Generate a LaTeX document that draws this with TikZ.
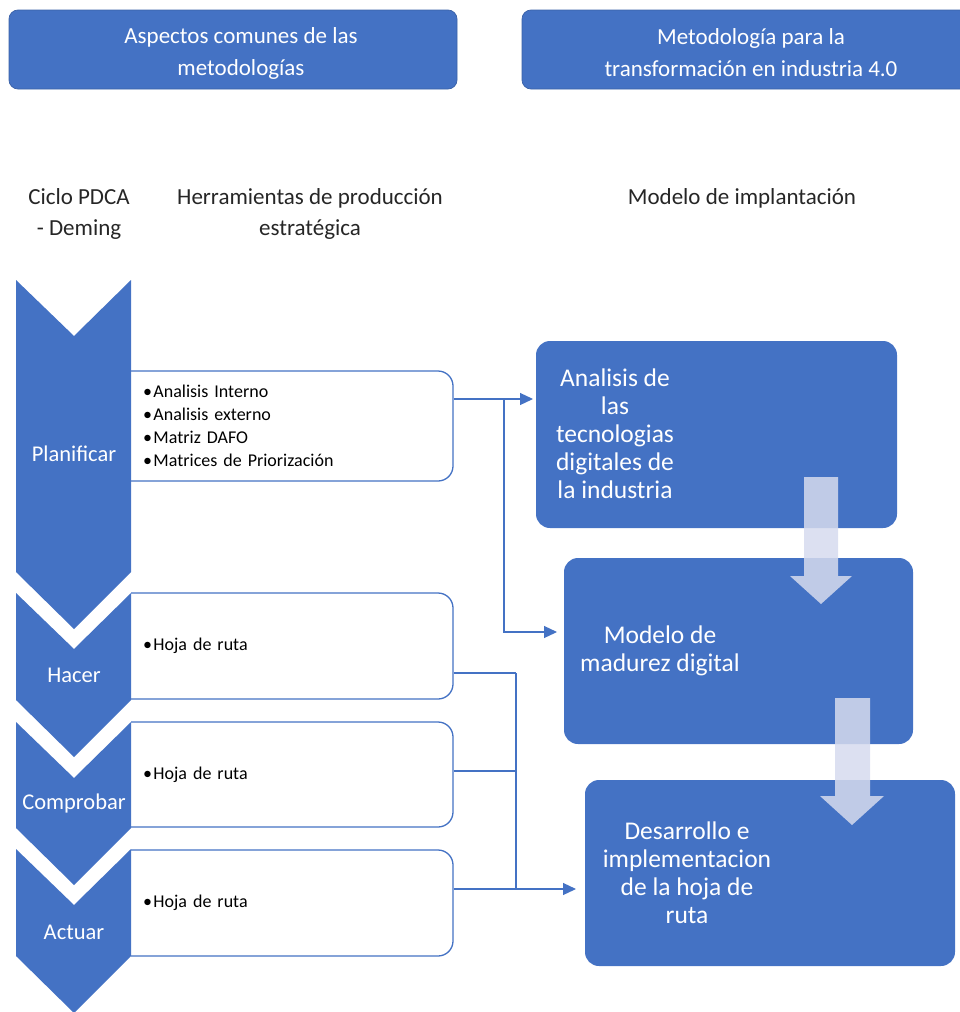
\documentclass[tikz,border=0pt]{standalone}
\usepackage{fontspec}
\setmainfont{Carlito}
\usetikzlibrary{arrows.meta}
\definecolor{accent}{HTML}{4472C4}
\definecolor{flowarrow}{RGB}{214,219,238}
\definecolor{inktext}{HTML}{262626}

% one PDCA chevron: top edge #1 (with notch), bottom edge #2 (with point)
\newcommand{\pdcachev}[2]{%
  \fill[accent] (16,#1) -- (74,#1+56) -- (131,#1) -- (131,#2)
    -- (74,#2+57) -- (16,#2) -- cycle;}
% bullet item inside the tool boxes
\newcommand{\tooli}[1]{\textbullet\hspace{1.5pt}#1}

\begin{document}
\begin{tikzpicture}[x=1pt,y=-1pt,
  header/.style={fill=accent, draw=accent!85!black, line width=0.7pt,
    rounded corners=9pt, minimum height=79pt},
  headtext/.style={text=white, align=center, font=\fontsize{23}{32}\selectfont},
  colhead/.style={text=inktext, align=center, font=\fontsize{23}{31}\selectfont},
  phase/.style={text=white, font=\fontsize{22.5}{26}\selectfont},
  toolbox/.style={draw=accent, line width=1.3pt, fill=white, rounded corners=15pt,
    minimum width=343pt, inner xsep=33pt, text width=277pt, align=left,
    font=\fontsize{18}{23}\selectfont, text=black},
  stagebox/.style={fill=accent, rounded corners=14pt},
  stagetext/.style={text=white, align=center, font=\fontsize{25.5}{28}\selectfont},
  link/.style={draw=accent, line width=1.2pt},
  tip/.style={-{Triangle[length=13pt,width=12pt]}},
  flow/.style={fill=flowarrow, fill opacity=0.85}
]
\useasboundingbox (0,0) rectangle (959,1012);

% header bars
\node[header, minimum width=448pt] (hleft) at (233,49.5) {};
\node[header, minimum width=458pt] (hright) at (751,49.5) {};
\node[headtext] (hleftt) at (241,53) {Aspectos comunes de las\\metodologías};
\node[headtext] (hrightt) at (751,53) {Metodología para la\\transformación en industria 4.0};

% column headings
\node[colhead] (cpdca) at (79,214) {Ciclo PDCA\\- Deming};
\node[colhead] (ctools) at (310,214) {Herramientas de producción\\estratégica};
\node[colhead] (cmodel) at (742,198) {Modelo de implantación};

% tool boxes, squared off where they meet the chevrons
\begin{scope}
  \clip (131,0) rectangle (959,1012);
  \node[toolbox, minimum height=110pt] (t1) at (281.5,426)
    {\tooli{Analisis Interno}\\\tooli{Analisis externo}\\\tooli{Matriz DAFO}\\\tooli{Matrices de Priorización}};
  \node[toolbox, minimum height=106pt] (t2) at (281.5,646) {\tooli{Hoja de ruta}};
  \node[toolbox, minimum height=105pt] (t3) at (281.5,774.5) {\tooli{Hoja de ruta}};
  \node[toolbox, minimum height=106pt] (t4) at (281.5,903) {\tooli{Hoja de ruta}};
\end{scope}

% PDCA chevrons
\pdcachev{280}{572}
\pdcachev{593}{700}
\pdcachev{722}{828}
\pdcachev{849}{956}
\node[phase] (pplan) at (74,454) {Planificar};
\node[phase] (pdo) at (74,675) {Hacer};
\node[phase] (pcheck) at (74,803) {Comprobar};
\node[phase] (pact) at (74,932) {Actuar};

% implementation model stages
\node[stagebox, minimum width=361pt, minimum height=187pt] (sA) at (716.5,434.5) {};
\node[stagebox, minimum width=349pt, minimum height=186pt] (sB) at (738.5,651) {};
\node[stagebox, minimum width=370pt, minimum height=186pt] (sC) at (770,873) {};
\node[stagetext] (lA) at (615,434) {Analisis de\\las\\tecnologias\\digitales de\\la industria};
\node[stagetext] (lB) at (660,651) {Modelo de\\madurez digital};
\node[stagetext] (lC) at (687,872.5) {Desarrollo e\\implementacion\\de la hoja de\\ruta};

% block arrows between stages
\path[flow] (804,477) -- (838,477) -- (838,576) -- (852,576) -- (821,604)
  -- (790,576) -- (804,576) -- cycle;
\path[flow] (835,698) -- (870,698) -- (870,796) -- (884,796) -- (852,825)
  -- (820,796) -- (835,796) -- cycle;

% connectors from tools to stages
\coordinate (j1) at (504,399);
\coordinate (j2) at (504,632);
\coordinate (aA) at (533,399);
\coordinate (aB) at (557,632);
\coordinate (k2) at (516,673);
\coordinate (k3) at (516,771);
\coordinate (k4) at (516,889);
\coordinate (aC) at (576,889);
\draw[link] (t1.east |- j1) -- (j1);
\draw[link, tip] (j1) -- (aA);
\draw[link, tip] (j1) -- (j2) -- (aB);
\draw[link] (t2.east |- k2) -- (k2);
\draw[link] (t3.east |- k3) -- (k3);
\draw[link] (t4.east |- k4) -- (k4);
\draw[link, tip] (k2) -- (k4) -- (aC);
\end{tikzpicture}
\end{document}
